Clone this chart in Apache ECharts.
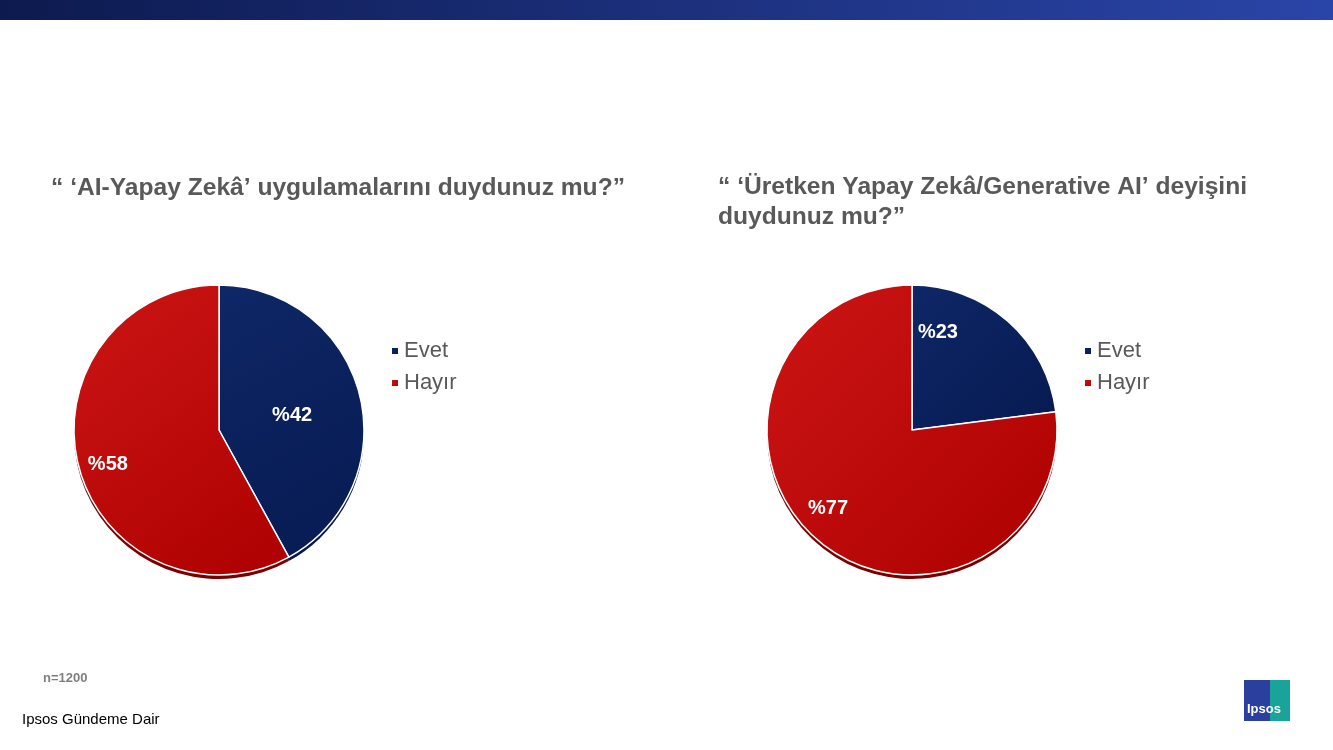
<!DOCTYPE html>
<html><head><meta charset="utf-8">
<script src="https://cdn.jsdelivr.net/npm/echarts@6/dist/echarts.min.js"></script>
<style>html,body{margin:0;padding:0;background:#fff}#c{width:1333px;height:750px}</style>
</head><body><div id="c"></div>
<script>
const categories = ['Evet', 'Hayır'];
const pie1Values = [42, 58];
const pie2Values = [23, 77];
const titles = ['“ ‘AI-Yapay Zekâ’ uygulamalarını duydunuz mu?”', '“ ‘Üretken Yapay Zekâ/Generative AI’ deyişini\nduydunuz mu?”'];
const colors = ['#0b2160', '#c00a0a'];
const labelOffsets1 = [[0,4],[-38,16]];
const labelOffsets2 = [[-24,-41],[-34,22]];

const chart = echarts.init(document.getElementById('c'));
function grad(c1, c2){return {type:'linear',x:0,y:0,x2:1,y2:1,colorStops:[{offset:0,color:c1},{offset:1,color:c2}]};}
const itemColors = [grad('#0e2766','#071a52'), grad('#cc1515','#ad0000')];
const R = 145;
function pieSeries(vals, cx, name, offs){
  return [{
    type:'pie', name:name+'s', center:[cx,434], radius:R, silent:true, z:1,
    startAngle:90, label:{show:false}, data:vals.map((v,i)=>({value:v, itemStyle:{color:i===0?'#08184a':'#7a0000'}})),
    itemStyle:{borderWidth:0}
  },{
    type:'pie', name:name, center:[cx,430], radius:R, startAngle:90, z:2,
    itemStyle:{borderColor:'#fff', borderWidth:1.5},
    label:{show:true, position:'inside', formatter:p=>'%'+p.value, color:'#fff', fontSize:20, fontWeight:'bold', fontFamily:'Arial'},
    labelLine:{show:false},
    data:vals.map((v,i)=>({name:categories[i], value:v, itemStyle:{color:itemColors[i]}, label:{offset:offs[i]}}))
  }];
}
const legendText = {fontSize:22, color:'#595959', fontFamily:'Arial'};
chart.setOption({
  animation:false,
  color:colors,
  title:[
    {text:titles[0], left:46, top:171, textStyle:{fontSize:24.6, fontWeight:'bold', color:'#595959', fontFamily:'Arial'}},
    {text:titles[1], left:713, top:167, textStyle:{fontSize:24.6, fontWeight:'bold', color:'#595959', fontFamily:'Arial', lineHeight:30}}
  ],
  legend:[
    {data:categories, orient:'vertical', left:385, top:335, icon:'rect', itemWidth:8, itemHeight:8, itemGap:10, textStyle:legendText},
    {data:categories, orient:'vertical', left:1078, top:335, icon:'rect', itemWidth:8, itemHeight:8, itemGap:10, textStyle:legendText}
  ],
  graphic:[
    {type:'rect', shape:{x:0,y:0,width:1333,height:20}, style:{fill:{type:'linear',x:0,y:0,x2:1,y2:0,colorStops:[{offset:0,color:'#0d1a4f'},{offset:1,color:'#2a45a8'}]}}},
    {type:'text', left:43, top:672, style:{text:'n=1200', fontSize:13, fontWeight:'bold', fill:'#7f7f7f', fontFamily:'Arial'}},
    {type:'text', left:22, top:712, style:{text:'Ipsos Gündeme Dair', fontSize:15, fill:'#000', fontFamily:'Arial'}},
    {type:'rect', shape:{x:1244,y:680,width:46,height:41}, style:{fill:'#2a3f9e'}},
    {type:'rect', shape:{x:1270,y:680,width:20,height:41}, style:{fill:'#1aa39a'}},
    {type:'text', x:1247, y:703, style:{text:'Ipsos', fontSize:13, fontWeight:'bold', fill:'#fff', fontFamily:'Arial'}}
  ],
  series:[...pieSeries(pie1Values,219,'p1',labelOffsets1), ...pieSeries(pie2Values,912,'p2',labelOffsets2)]
});
</script></body></html>
